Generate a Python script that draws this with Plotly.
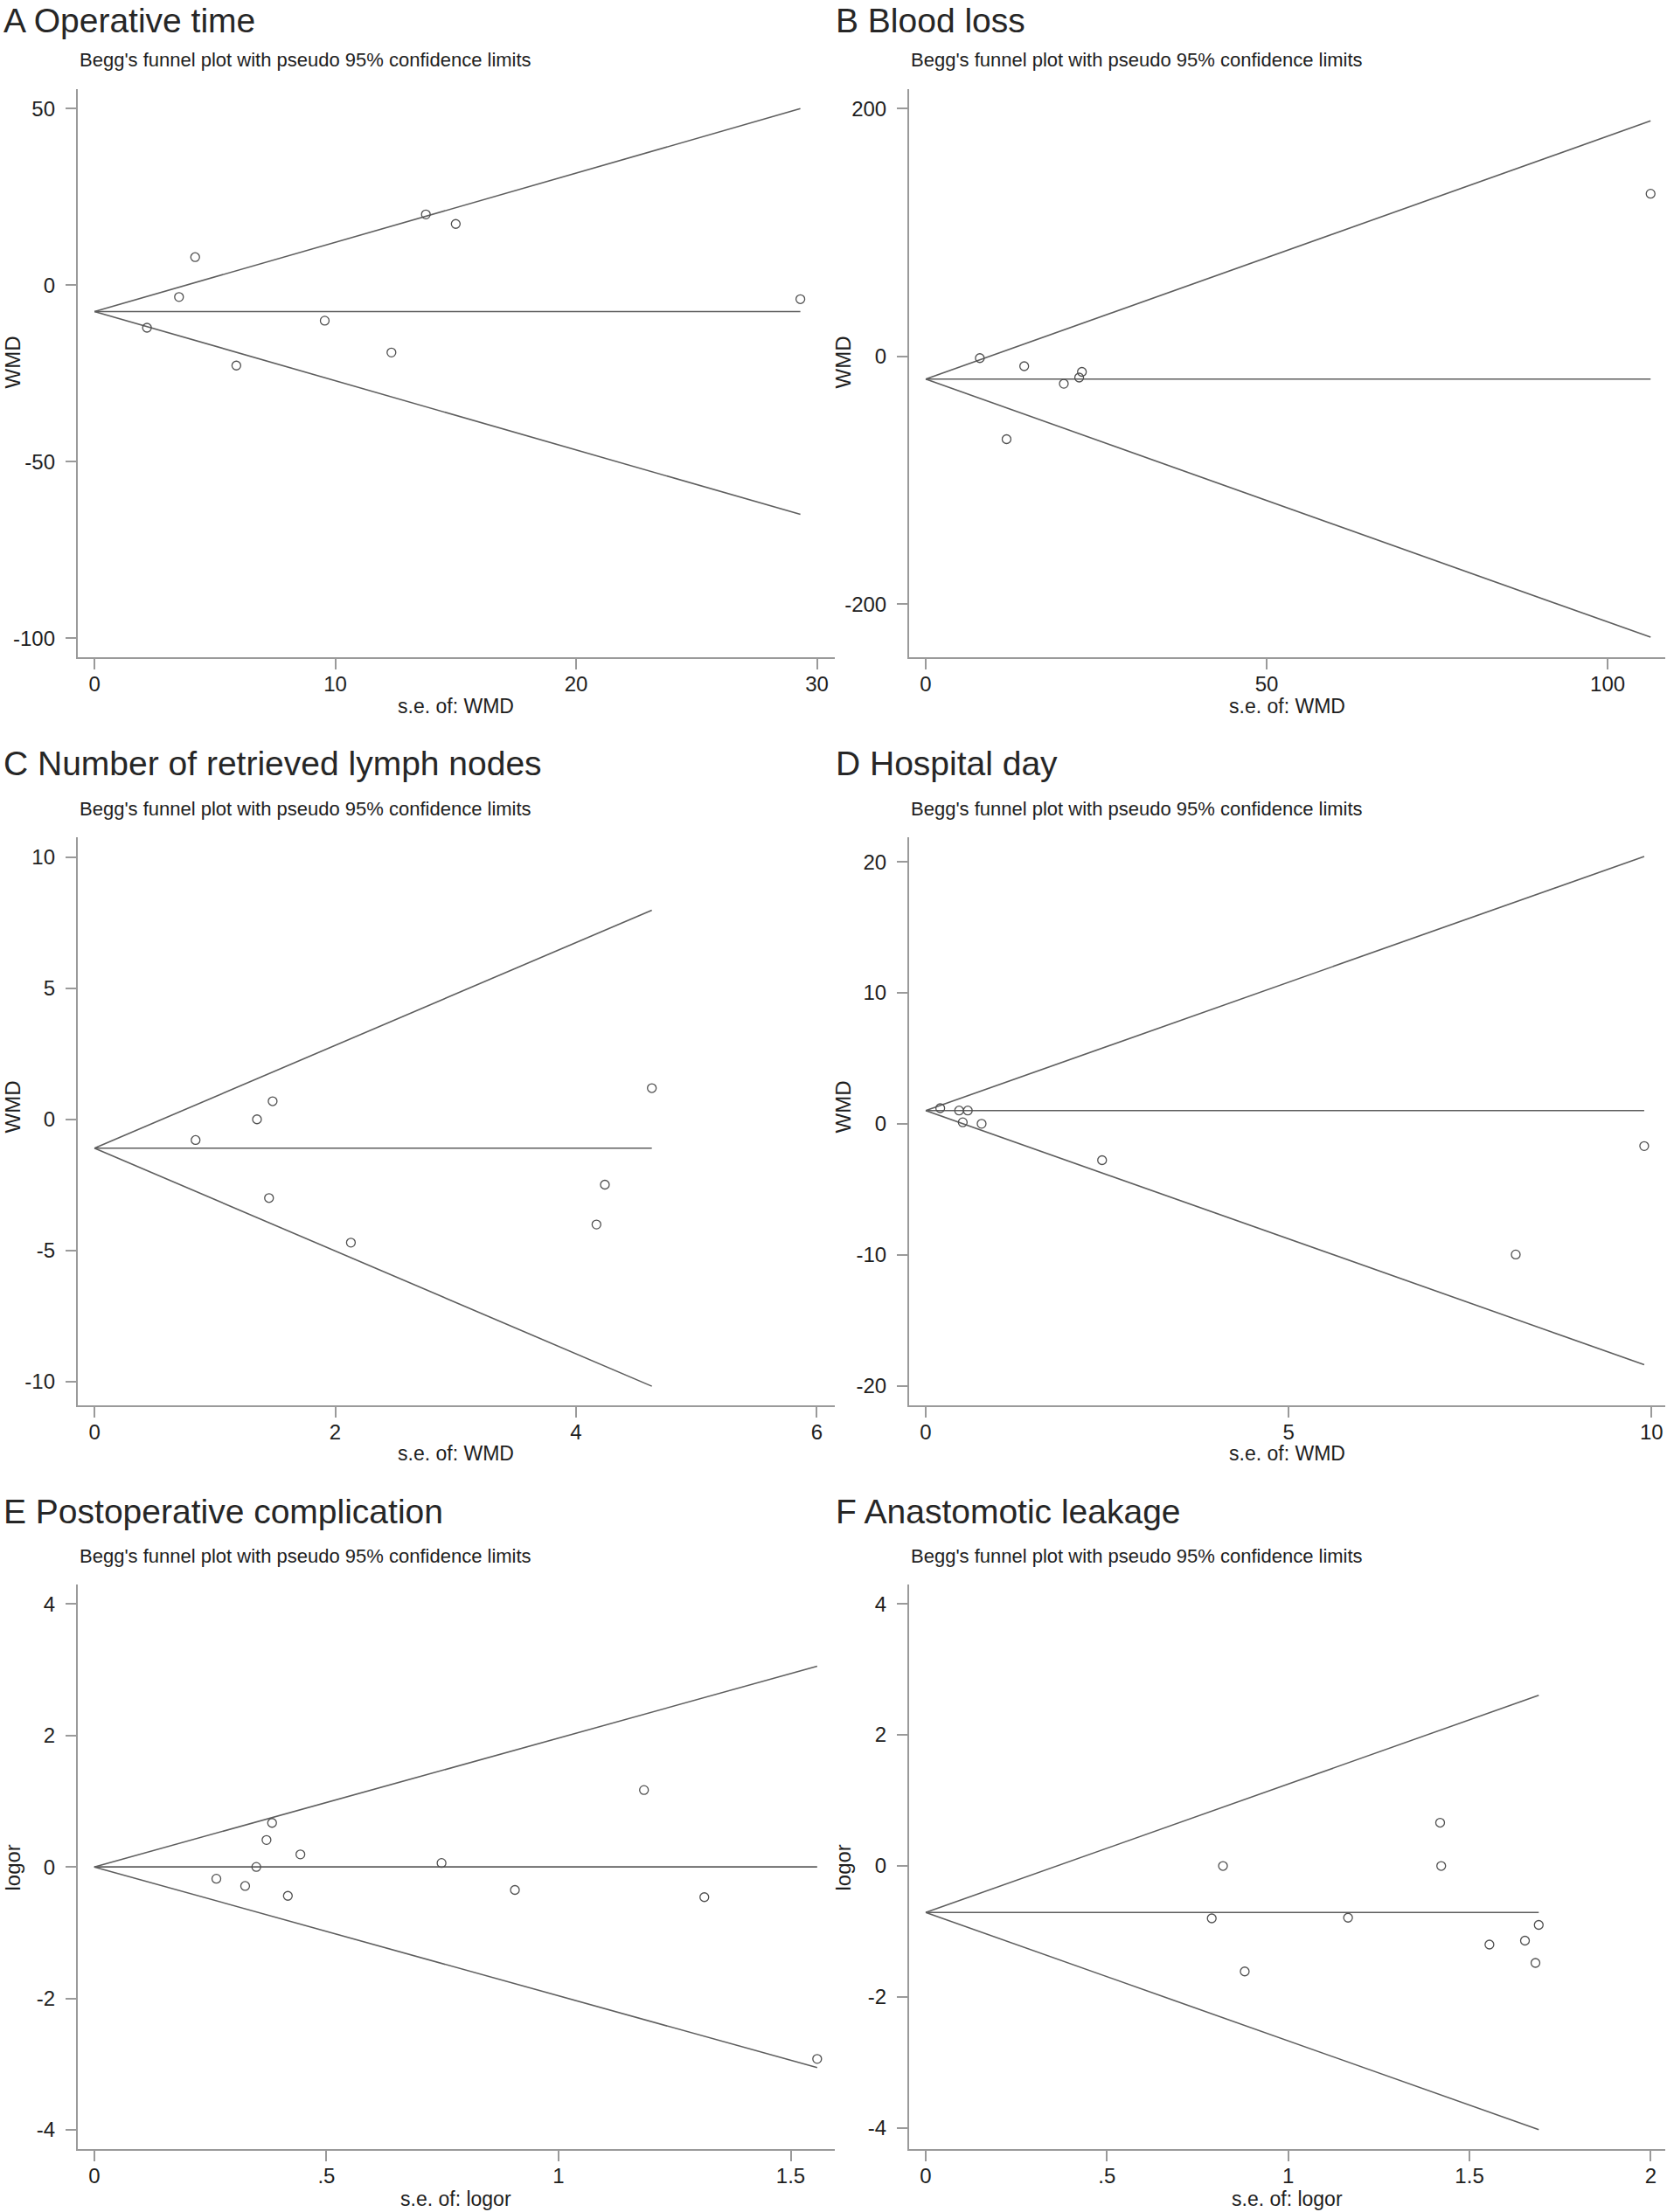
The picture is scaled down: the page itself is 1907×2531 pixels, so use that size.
import plotly.graph_objects as go

# ---------------- data ----------------
A_se = [2.18, 3.51, 4.18, 5.89, 9.56, 12.33, 13.76, 15.0, 29.31]
A_est = [-12.1, -3.4, 7.9, -22.8, -10.1, -19.1, 20.0, 17.3, -4.0]
A_theta = -7.5

B_se = [7.93, 11.85, 14.44, 20.25, 22.5, 22.9, 106.3]
B_est = [-1.5, -66.9, -8.0, -22.2, -17.2, -12.6, 131.2]
B_theta = -18.4

C_se = [0.84, 1.35, 1.45, 1.48, 2.13, 4.17, 4.24, 4.63]
C_est = [-0.79, 0.0, -3.0, 0.69, -4.70, -4.01, -2.49, 1.19]
C_theta = -1.10

D_se = [0.20, 0.46, 0.51, 0.58, 0.77, 2.43, 8.13, 9.90]
D_est = [1.19, 1.01, 0.11, 1.01, 0.0, -2.78, -9.98, -1.70]
D_theta = 1.01

E_se = [0.263, 0.325, 0.349, 0.371, 0.383, 0.417, 0.444, 0.748, 0.906, 1.184, 1.314, 1.557]
E_est = [-0.18, -0.29, 0.0, 0.41, 0.67, -0.44, 0.19, 0.06, -0.35, 1.17, -0.46, -2.92]
E_theta = 0.0

F_se = [0.789, 0.820, 0.880, 1.165, 1.419, 1.422, 1.555, 1.653, 1.682, 1.691]
F_est = [-0.80, 0.0, -1.61, -0.79, 0.66, 0.0, -1.20, -1.14, -1.48, -0.90]
F_theta = -0.71

panel_titles = ["A Operative time", "B Blood loss", "C Number of retrieved lymph nodes",
                "D Hospital day", "E Postoperative complication", "F Anastomotic leakage"]
subtitle = "Begg's funnel plot with pseudo 95% confidence limits"
y_titles = ["WMD", "WMD", "WMD", "WMD", "logor", "logor"]
x_titles = ["s.e. of: WMD", "s.e. of: WMD", "s.e. of: WMD", "s.e. of: WMD",
            "s.e. of: logor", "s.e. of: logor"]

A_xticks = [0, 10, 20, 30];        A_xtext = ["0", "10", "20", "30"]
A_yticks = [-100, -50, 0, 50];     A_ytext = ["-100", "-50", "0", "50"]
B_xticks = [0, 50, 100];           B_xtext = ["0", "50", "100"]
B_yticks = [-200, 0, 200];         B_ytext = ["-200", "0", "200"]
C_xticks = [0, 2, 4, 6];           C_xtext = ["0", "2", "4", "6"]
C_yticks = [-10, -5, 0, 5, 10];    C_ytext = ["-10", "-5", "0", "5", "10"]
D_xticks = [0, 5, 10];             D_xtext = ["0", "5", "10"]
D_yticks = [-20, -10, 0, 10, 20];  D_ytext = ["-20", "-10", "0", "10", "20"]
E_xticks = [0, 0.5, 1, 1.5];       E_xtext = ["0", ".5", "1", "1.5"]
E_yticks = [-4, -2, 0, 2, 4];      E_ytext = ["-4", "-2", "0", "2", "4"]
F_xticks = [0, 0.5, 1, 1.5, 2];    F_xtext = ["0", ".5", "1", "1.5", "2"]
F_yticks = [-4, -2, 0, 2, 4];      F_ytext = ["-4", "-2", "0", "2", "4"]

panels = [
    (A_se, A_est, A_theta, A_xticks, A_xtext, A_yticks, A_ytext),
    (B_se, B_est, B_theta, B_xticks, B_xtext, B_yticks, B_ytext),
    (C_se, C_est, C_theta, C_xticks, C_xtext, C_yticks, C_ytext),
    (D_se, D_est, D_theta, D_xticks, D_xtext, D_yticks, D_ytext),
    (E_se, E_est, E_theta, E_xticks, E_xtext, E_yticks, E_ytext),
    (F_se, F_est, F_theta, F_xticks, F_xtext, F_yticks, F_ytext),
]

# ---------------- layout geometry (pixels) ----------------
W, H = 1907, 2531
cols = [(88.8, 955.0), (1040.0, 1905.0)]
rows = [(102.0, 752.4), (958.4, 1607.9), (1813.4, 2458.9)]
xranges = [[-0.70, 30.74], [-2.44, 108.45], [-0.14, 6.15],
           [-0.229, 10.19], [-0.0358, 1.595], [-0.0458, 2.04]]
yranges = [[-105.5, 55.47], [-243.2, 215.6], [-10.9, 10.74],
           [-21.49, 21.85], [-4.29, 4.29], [-4.32, 4.29]]
title_y = [24, 874, 1729]
sub_y = [69, 925, 1780.5]
xtitle_y = [808, 1663, 2516]
ytitle_y = [415, 1267, 2137]
title_x = [2, 954]
ytitle_x = [13.5, 963.5]

def px(x):
    return x / W

def py(y):
    return 1 - y / H

LINE = "#5e5e5e"
AXIS = "#9a9a9a"
TEXT = "#1e1e1e"
FONT = "Liberation Sans, Arial, sans-serif"

fig = go.Figure()
annotations = []

for i, (se, est, theta, xt, xtt, yt, ytt) in enumerate(panels):
    r, c = divmod(i, 2)
    n = i + 1
    xa = "x" if n == 1 else f"x{n}"
    ya = "y" if n == 1 else f"y{n}"
    se_max = max(se)
    # pooled estimate line
    fig.add_trace(go.Scatter(x=[0, se_max], y=[theta, theta], mode="lines",
                             line=dict(color=LINE, width=1.6), xaxis=xa, yaxis=ya,
                             showlegend=False, hoverinfo="skip"))
    # pseudo 95% limits
    fig.add_trace(go.Scatter(x=[0, se_max], y=[theta, theta + 1.96 * se_max], mode="lines",
                             line=dict(color=LINE, width=1.6), xaxis=xa, yaxis=ya,
                             showlegend=False, hoverinfo="skip"))
    fig.add_trace(go.Scatter(x=[0, se_max], y=[theta, theta - 1.96 * se_max], mode="lines",
                             line=dict(color=LINE, width=1.6), xaxis=xa, yaxis=ya,
                             showlegend=False, hoverinfo="skip"))
    # studies
    fig.add_trace(go.Scatter(x=se, y=est, mode="markers",
                             marker=dict(symbol="circle-open", size=10,
                                         color="#505050", line=dict(width=1.3, color="#505050")),
                             xaxis=xa, yaxis=ya, showlegend=False))

    x0, x1 = cols[c]
    y0, y1 = rows[r]
    common = dict(showline=True, linecolor=AXIS, linewidth=2, ticks="outside",
                  ticklen=12, tickwidth=1.6, tickcolor=AXIS, showgrid=False,
                  zeroline=False, tickfont=dict(family=FONT, size=24, color=TEXT))
    xkw = dict(domain=[px(x0), px(x1)], range=xranges[i], tickmode="array",
               tickvals=xt, ticktext=xtt, anchor=ya, ticklabelstandoff=-4, **common)
    ykw = dict(domain=[py(y1), py(y0)], range=yranges[i], tickmode="array",
               tickvals=yt, ticktext=ytt, anchor=xa, ticklabelstandoff=7, **common)
    fig.update_layout(**{("xaxis" if n == 1 else f"xaxis{n}"): xkw,
                         ("yaxis" if n == 1 else f"yaxis{n}"): ykw})

    # panel title
    annotations.append(dict(text=panel_titles[i], x=px(title_x[c]), y=py(title_y[r]),
                            xref="paper", yref="paper", xanchor="left", yanchor="middle",
                            showarrow=False, font=dict(family=FONT, size=39, color="#262626")))
    # subtitle
    annotations.append(dict(text=subtitle, x=px(x0), y=py(sub_y[r]),
                            xref="paper", yref="paper", xanchor="left", yanchor="middle",
                            showarrow=False, font=dict(family=FONT, size=22, color=TEXT)))
    # x-axis title
    annotations.append(dict(text=x_titles[i], x=px((x0 + x1) / 2), y=py(xtitle_y[r]),
                            xref="paper", yref="paper", xanchor="center", yanchor="middle",
                            showarrow=False, font=dict(family=FONT, size=23, color=TEXT)))
    # y-axis title
    annotations.append(dict(text=y_titles[i], x=px(ytitle_x[c]), y=py(ytitle_y[r]),
                            xref="paper", yref="paper", xanchor="center", yanchor="middle",
                            textangle=-90, showarrow=False,
                            font=dict(family=FONT, size=24, color=TEXT)))

fig.update_layout(width=W, height=H, margin=dict(l=0, r=0, t=0, b=0),
                  paper_bgcolor="white", plot_bgcolor="white",
                  annotations=annotations, showlegend=False)

fig.write_html("out.html", config={"displayModeBar": False},
               post_script="document.body.style.margin='0';document.body.style.overflow='hidden';")
